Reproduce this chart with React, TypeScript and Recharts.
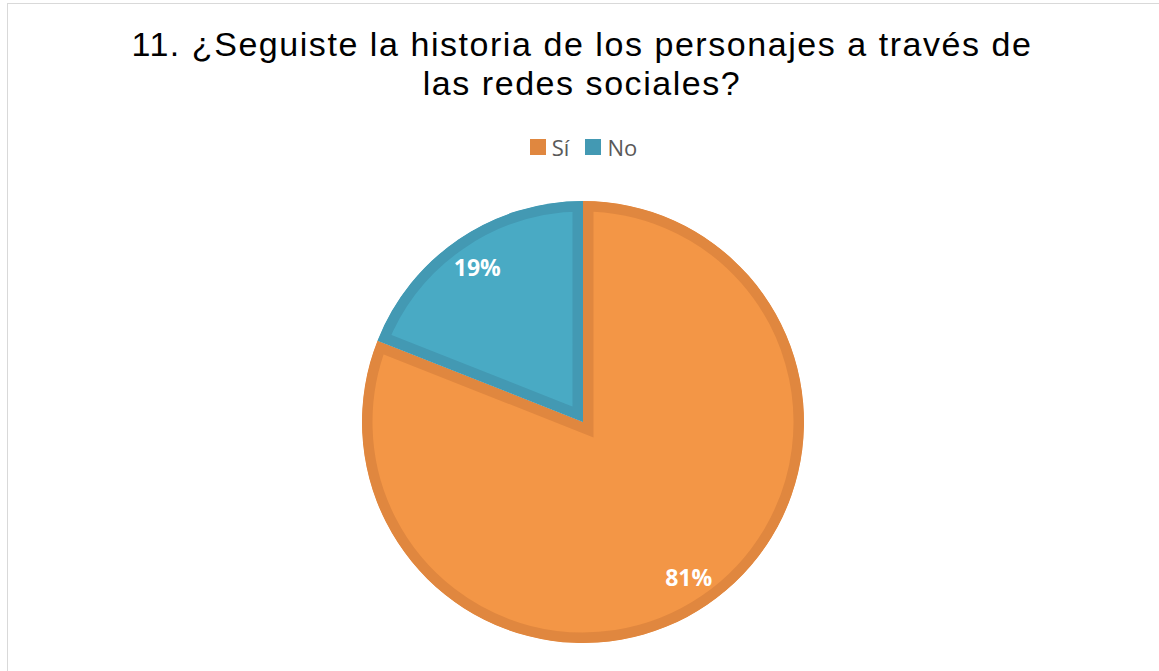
import React from 'react';
import { PieChart, Pie, Cell, Legend, Sector } from 'recharts';

const CATEGORIES = ['Sí', 'No'];
const VALUES = [81, 19];
const FILLS = ['#F39646', '#49AAC4'];
const STROKES = ['#E0873F', '#4399B3'];

const TITLE_LINES = ['11. ¿Seguiste la historia de los personajes a través de', 'las redes sociales?'];

const data = CATEGORIES.map((name, i) => ({ name, value: VALUES[i] }));

const RADIAN = Math.PI / 180;

// sector with its border drawn only on the inside (clipped to itself)
function InsetSector(props: any) {
  const { cx, cy, innerRadius, outerRadius, startAngle, endAngle, fill } = props;
  const idx = Math.max(0, FILLS.indexOf(fill));
  const id = `inset-clip-${idx}`;
  return (
    <g>
      <defs>
        <clipPath id={id}>
          <Sector cx={cx} cy={cy} innerRadius={innerRadius} outerRadius={outerRadius}
            startAngle={startAngle} endAngle={endAngle} />
        </clipPath>
      </defs>
      <Sector cx={cx} cy={cy} innerRadius={innerRadius} outerRadius={outerRadius}
        startAngle={startAngle} endAngle={endAngle}
        fill={fill} stroke={STROKES[idx]} strokeWidth={21} clipPath={`url(#${id})`} />
    </g>
  );
}

function renderLabel(props: any) {
  const { cx, cy, midAngle, outerRadius, value } = props;
  const r = outerRadius - 33;
  const x = cx + r * Math.cos(-midAngle * RADIAN);
  const y = cy + r * Math.sin(-midAngle * RADIAN);
  return (
    <text x={x} y={y} textAnchor="middle" dominantBaseline="central" fill="#fff"
      fontFamily="'Open Sans', sans-serif" fontWeight={700} fontSize={23}>
      {`${value}%`}
    </text>
  );
}

function LegendContent() {
  return (
    <div style={styles.legend}>
      {CATEGORIES.map((c, i) => (
        <div key={c} style={styles.legendItem}>
          <span style={{ ...styles.legendBox, background: STROKES[i] }} />
          <span>{c}</span>
        </div>
      ))}
    </div>
  );
}

export default function App() {
  return (
    <div style={styles.page}>
      <div style={styles.frame} />
      <div style={styles.title}>
        {TITLE_LINES.map(l => <div key={l}>{l}</div>)}
      </div>
      <div style={{ position: 'absolute', left: 0, top: 0 }}>
        <PieChart width={1159} height={671} margin={{ top: 0, right: 0, bottom: 0, left: 0 }}>
          <Legend verticalAlign="bottom" content={<LegendContent />}
            wrapperStyle={{ top: 132, bottom: 'auto', left: 0, width: 1159 }} />
          <Pie
            data={data}
            dataKey="value"
            nameKey="name"
            cx={583}
            cy={422}
            outerRadius={221}
            startAngle={90}
            endAngle={-270}
            stroke="none"
            shape={InsetSector}
            label={renderLabel}
            labelLine={false}
            isAnimationActive={false}
          >
            {data.map((d, i) => <Cell key={d.name} fill={FILLS[i]} />)}
          </Pie>
        </PieChart>
      </div>
    </div>
  );
}

const styles: Record<string, React.CSSProperties> = {
  page: {
    position: 'absolute', left: 0, top: 0, width: 1159, height: 671,
    overflow: 'hidden', background: '#fff',
  },
  frame: {
    position: 'absolute', left: 7, top: 3, width: 1200, height: 720,
    border: '1px solid #D9D9D9',
  },
  title: {
    position: 'absolute', left: 0, top: 25, width: 1164, textAlign: 'center',
    fontFamily: "'Liberation Sans', Arial, sans-serif", fontSize: 34, lineHeight: '39px',
    letterSpacing: 1.55, color: '#000',
  },
  legend: {
    display: 'flex', justifyContent: 'center', alignItems: 'center', gap: 16,
    fontFamily: "'Open Sans', sans-serif", fontSize: 22, color: '#595959',
    lineHeight: '30px', paddingLeft: 8,
  },
  legendItem: { display: 'flex', alignItems: 'center', gap: 6 },
  legendBox: { display: 'inline-block', width: 16, height: 16 },
};
